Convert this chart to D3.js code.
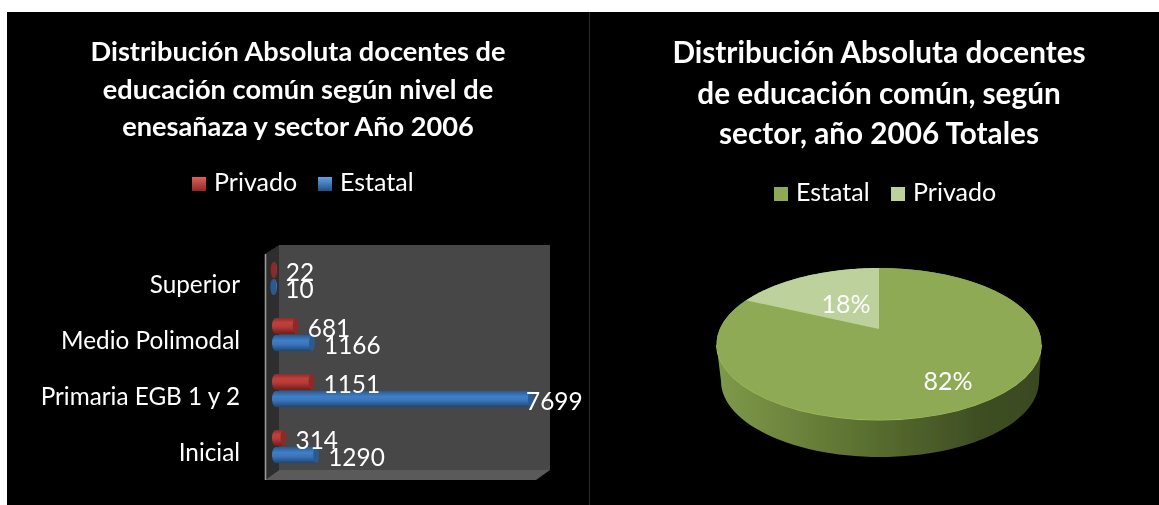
<!DOCTYPE html>
<html><head><meta charset="utf-8">
<script src="https://cdn.jsdelivr.net/npm/d3@7"></script>
<style>
html,body{margin:0;padding:0;background:#fff;overflow:hidden}
svg{display:block}
text{font-family:Lato,"Open Sans",sans-serif;fill:#fff}
</style></head><body><svg id="c" width="1159" height="505"></svg>
<script>
const categories=["Superior","Medio Polimodal","Primaria EGB 1 y 2","Inicial"];
const privado=[22,681,1151,314];
const estatal=[10,1166,7699,1290];
const barTitle=["Distribución Absoluta docentes de","educación común según nivel de","enesañaza y sector Año 2006"];
const pieTitle=["Distribución Absoluta docentes","de educación común, según","sector, año 2006 Totales"];
const pieLabels=["Estatal","Privado"];
const pieValues=[82,18];

const svg=d3.select("#c");
const defs=svg.append("defs");
function lin(id,stops,horizontal){
  const g=defs.append("linearGradient").attr("id",id).attr("x1",0).attr("y1",0)
    .attr("x2",horizontal?1:0).attr("y2",horizontal?0:1);
  stops.forEach(s=>g.append("stop").attr("offset",s[0]).attr("stop-color",s[1]));
}
lin("red",[[0,"#8f2b2a"],[.3,"#c0403d"],[.55,"#b63a37"],[1,"#6d1f1e"]]);
lin("blue",[[0,"#2a5a94"],[.35,"#3f7fc8"],[.6,"#3a74b8"],[1,"#1f4677"]]);
lin("swR",[[0,"#e0605c"],[1,"#8c2a28"]]);
lin("swB",[[0,"#5ea4e8"],[1,"#24507f"]]);
lin("side",[[0,"#7f9a4a"],[.45,"#5b7030"],[.8,"#3f4f24"],[1,"#3a4921"]],true);
defs.append("filter").attr("id","soft").append("feGaussianBlur").attr("stdDeviation",0.65);

const root=svg.append("g").attr("filter","url(#soft)");
root.append("rect").attr("x",7).attr("y",12).attr("width",1152).attr("height",493).attr("fill","#000");
root.append("rect").attr("x",589).attr("y",12).attr("width",1).attr("height",493).attr("fill","#2a2a2a");

function title(lines,cx,y0,dy,size){
  root.append("g").selectAll("text").data(lines).join("text")
    .attr("x",cx).attr("y",(d,i)=>y0+i*dy).attr("text-anchor","middle")
    .attr("font-size",size).attr("font-weight",700).text(d=>d);
}
title(barTitle,298,61,37.5,27.2);
title(pieTitle,879,63,40.5,29.7);

function legend(items){
  items.forEach(it=>{
    root.append("rect").attr("x",it.x).attr("y",it.y).attr("width",14).attr("height",14).attr("fill",it.fill);
    root.append("text").attr("x",it.x+22).attr("y",it.y+14).attr("font-size",25).text(it.t);
  });
}
legend([{x:192,y:177,fill:"url(#swR)",t:"Privado"},{x:318,y:177,fill:"url(#swB)",t:"Estatal"},
        {x:774,y:187,fill:"#8faa54",t:pieLabels[0]},{x:891,y:187,fill:"#bdd19c",t:pieLabels[1]}]);

/* 3D box */
const box={l:265,r:536,t:254,b:480,dx:14,dy:10};
const poly=(pts,f)=>root.append("polygon").attr("points",pts.map(p=>p.join(",")).join(" ")).attr("fill",f);
poly([[box.l+box.dx,245],[550,245],[550,470],[box.l+box.dx,470]],"#464646");
poly([[box.l,box.t],[box.l+box.dx,245],[box.l+box.dx,470],[box.l,box.b]],"#2e2e2e");
poly([[box.l,box.b],[box.l+box.dx,470],[550,470],[box.r,box.b]],"#5a5a5a");
root.append("line").attr("x1",box.l+.5).attr("x2",box.l+.5).attr("y1",box.t).attr("y2",box.b).attr("stroke","#999").attr("stroke-width",1.6);

const x=d3.scaleLinear().domain([0,7699]).range([272,530]);
const y=d3.scaleBand().domain(categories).range([260,484]).paddingInner(0);
const barH=16;
function bars(vals,off,fill,capFill){
  const row=root.append("g").selectAll("g").data(vals).join("g");
  row.append("rect").attr("x",x(0)).attr("y",(d,i)=>y(categories[i])+off)
    .attr("width",d=>Math.max(x(d)-x(0),2)+3).attr("height",barH).attr("rx",4).attr("ry",8).attr("fill",fill);
  row.append("ellipse").attr("cx",d=>x(d)+1).attr("cy",(d,i)=>y(categories[i])+off+barH/2)
    .attr("rx",3).attr("ry",barH/2).attr("fill",capFill);
}
function valueLabels(vals,off){
  root.append("g").selectAll("text").data(vals).join("text")
    .attr("x",d=>Math.min(x(d)+13,526))
    .attr("y",(d,i)=>y(categories[i])+off+barH/2+11).attr("font-size",24.4).text(d=>d);
}
bars(privado,2,"url(#red)","#8a2c2b");
bars(estatal,19,"url(#blue)","#2c5a90");
valueLabels(privado,2);
valueLabels(estatal,19);

root.append("g").selectAll("text").data(categories).join("text")
  .attr("x",240).attr("y",d=>y(d)+y.bandwidth()/2+5).attr("text-anchor","end").attr("font-size",24.3).text(d=>d);

/* pie */
const pcx=879,apexY=329,A=159.3,B=73,k=0.197;
const proj=a=>{const u=Math.sin(a),v=Math.cos(a),w=1+k*v;return [pcx+A*u/w,apexY-B*v/w];};
const arcs=d3.pie().sort(null)(pieValues);
const sample=(a0,a1)=>d3.range(0,61).map(i=>proj(a0+(a1-a0)*i/60));
const line=d3.line();
const rim=sample(0,2*Math.PI);
const lower=rim.filter(p=>p[1]>=340).sort((a,b)=>a[0]-b[0]);
const bcx=880,bcy=381,brx=159,bry=76;
const base=d3.range(0,61).map(i=>{const t=Math.PI*i/60;return [bcx+brx*Math.cos(t),bcy+bry*Math.sin(t)];});
root.append("path").attr("d",line(lower)+"L"+line(base).slice(1)+"Z").attr("fill","url(#side)");
root.append("path").datum(arcs).attr("d",line(rim)+"Z").attr("fill","#8faa54");
root.append("path").attr("d",line(lower)).attr("fill","none").attr("stroke","#a5c060").attr("stroke-width",1.2);
arcs.forEach((a,i)=>{
  root.append("path").attr("d","M"+pcx+","+apexY+"L"+line(sample(a.startAngle,a.endAngle)).slice(1)+"Z")
    .attr("fill",i==0?"#8faa54":"#bdd19c");
});
const pieLabelPos=[[948,382],[846,305]];
root.append("g").selectAll("text").data(pieValues).join("text")
  .attr("x",(d,i)=>pieLabelPos[i][0]).attr("y",(d,i)=>pieLabelPos[i][1]+8).attr("text-anchor","middle")
  .attr("font-size",25).text(d=>d+"%");
</script></body></html>
